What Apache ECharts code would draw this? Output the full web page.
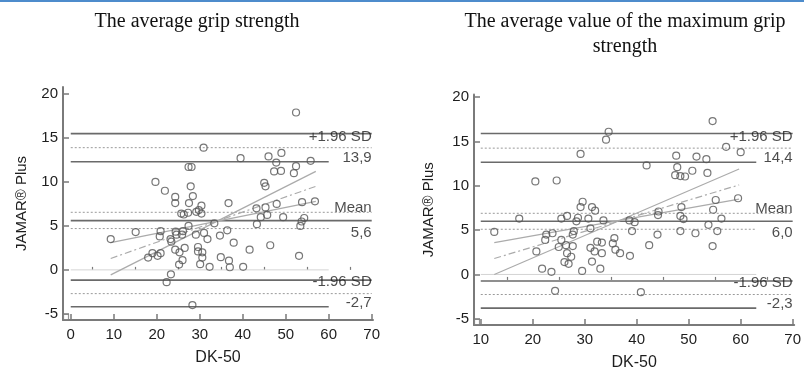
<!DOCTYPE html>
<html>
<head>
<meta charset="utf-8">
<script src="https://cdn.jsdelivr.net/npm/echarts@6/dist/echarts.min.js"></script>
<style>
  html, body { margin: 0; padding: 0; background: #fff; }
  #chart { width: 804px; height: 376px; }
</style>
</head>
<body>
<div id="chart"></div>
<script>
// average grip strength (left)
const avgX = [9.3, 15.1, 18.0, 19.0, 20.2, 20.9, 20.7, 20.9, 19.7, 21.9, 22.3, 23.3, 23.2, 23.4, 24.4, 24.6, 24.3, 24.3, 24.3, 25.3,
  25.2, 26.0, 25.7, 26.3, 27.3, 27.4, 28.1, 27.9, 28.4, 27.5, 29.2, 27.4, 26.1, 25.9, 29.1, 26.5, 29.6, 29.6, 30.6, 30.6,
  30.1, 28.3, 30.9, 30.4, 29.8, 30.4, 31.0, 31.8, 32.3, 33.4, 34.7, 34.9, 36.4, 36.7, 36.8, 37.0, 37.9, 39.5, 40.1, 41.6,
  43.2, 43.3, 44.2, 45.0, 45.3, 45.3, 45.7, 46.0, 46.4, 47.3, 47.8, 47.9, 48.9, 49.0, 49.4, 51.9, 52.4, 52.4, 53.1, 53.4,
  53.7, 53.8, 54.3, 55.8, 56.8]
const avgY = [3.5, 4.3, 1.4, 1.9, 1.6, 1.9, 3.8, 4.4, 10.0, 9.0, -1.4, -0.5, 3.5, 3.2, 4.35, 4.0, 8.3, 7.6, 2.3, 2.0,
  0.6, 1.1, 6.4, 6.3, 6.5, 11.7, 11.7, 9.5, 8.4, 7.6, 6.6, 5.0, 4.4, 4.0, 4.0, 2.5, 2.6, 2.1, 2.0, 1.4,
  0.65, -4.0, 13.9, 7.3, 6.8, 6.4, 4.2, 3.5, 0.35, 5.3, 3.9, 1.45, 4.5, 7.6, 1.05, 0.3, 3.1, 12.7, 0.35, 2.3,
  7.0, 5.2, 6.0, 9.9, 9.5, 7.1, 6.25, 12.9, 2.8, 11.2, 12.2, 7.5, 11.25, 13.3, 6.0, 11.0, 11.8, 17.9, 1.6, 5.0,
  5.5, 7.7, 5.9, 12.4, 7.8]

// average of maximum grip strength (right)
const maxX = [12.6, 17.4, 20.5, 20.7, 21.8, 22.4, 22.6, 23.6, 23.8, 24.6, 24.3, 25.0, 25.5, 25.5, 26.4, 26.6, 26.6, 27.4, 26.1, 26.9,
  27.7, 27.7, 27.9, 28.7, 28.4, 29.2, 29.6, 29.2, 29.5, 30.7, 31.1, 31.4, 32.0, 31.1, 31.9, 31.4, 32.4, 33.3, 33.3, 33.0,
  33.6, 34.1, 34.6, 35.4, 35.7, 35.9, 36.8, 38.6, 38.7, 39.1, 39.6, 40.8, 41.9, 42.4, 44.0, 44.2, 44.1, 47.4, 47.6, 47.8,
  48.4, 48.4, 48.4, 48.6, 49.0, 49.3, 50.7, 51.3, 51.5, 53.4, 53.6, 53.8, 54.6, 54.6, 54.7, 55.2, 55.5, 56.3, 57.2, 59.5,
  60.0]
const maxY = [4.8, 6.3, 10.5, 2.6, 0.65, 3.9, 4.5, 0.3, 4.65, 10.6, -1.85, 3.1, 3.9, 6.3, 3.3, 6.6, 2.4, 2.0, 1.4, 1.2,
  3.2, 4.5, 4.9, 6.4, 6.0, 13.6, 8.2, 7.6, 0.4, 6.3, 5.2, 7.6, 7.2, 3.0, 2.6, 1.45, 3.7, 3.6, 2.4, 0.65,
  6.1, 15.2, 16.1, 3.5, 4.1, 2.8, 2.4, 6.1, 2.1, 4.9, 5.9, -2.0, 12.3, 3.3, 4.5, 7.1, 6.7, 11.2, 13.4, 12.1,
  11.1, 6.6, 4.9, 7.6, 6.25, 11.05, 11.7, 4.65, 13.3, 13.0, 11.45, 5.6, 3.2, 17.3, 7.3, 8.4, 4.9, 6.3, 14.4, 8.6,
  13.8]

// horizontal reference lines (upper limit group, mean group, lower limit group)
const levelsAvg = [15.5, 13.9, 12.3, 6.55, 5.6, 4.7, -1.17, -2.7, -4.2]
const levelsMax = [15.9, 14.25, 12.65, 6.9, 6.0, 5.1, -0.73, -2.26, -3.8]
const spanAvg = [0, 60, 70]   // start, short end, long end
const spanMax = [10, 63, 70]
const labelsAvg = ['+1.96 SD', '13,9', 'Mean', '5,6', '-1.96 SD', '-2,7']
const labelsMax = ['+1.96 SD', '14,4', 'Mean', '6,0', '-1.96 SD', '-2,3']

// regression line and its bounds: [value at first x, value at last x]
const regXAvg = [9.3, 57]
const regHighAvg = [-0.57, 11.2]
const regFitAvg = [1.3, 9.5]
const regLowAvg = [3.1, 7.8]
const regXMax = [12.6, 59.7]
const regHighMax = [0, 11.9]
const regFitMax = [1.8, 10.1]
const regLowMax = [3.6, 8.5]

const xTicksAvg = [0, 10, 20, 30, 40, 50, 60, 70]
const xMinorAvg = [5, 15, 25, 35, 45, 55, 65]
const xTicksMax = [10, 20, 30, 40, 50, 60, 70]
const xMinorMax = [15, 25, 35, 45, 55, 65]
const yTicks = [-5, 0, 5, 10, 15, 20]

const axisGray = '#7a7a7a'
const textColor = '#1e1e1e'
const sans = '"Liberation Sans", Arial, sans-serif'

function mainX(grid, min, max, ticks) {
  return {
    gridIndex: grid, type: 'value', min: min, max: max,
    name: 'DK-50', nameLocation: 'middle', nameGap: 30,
    nameTextStyle: { fontFamily: sans, fontSize: 16, color: textColor },
    axisLine: { show: true, onZero: false, lineStyle: { color: axisGray, width: 2 } },
    axisTick: { show: true, inside: true, length: 6, customValues: ticks, lineStyle: { color: axisGray, width: 1.5 } },
    axisLabel: { customValues: ticks, margin: 7, fontFamily: sans, fontSize: 15, color: textColor },
    splitLine: { show: false }
  }
}
function minorX(grid, min, max, ticks) {
  return {
    gridIndex: grid, type: 'value', min: min, max: max,
    axisLine: { show: false },
    axisTick: { show: true, inside: true, length: 3, customValues: ticks, lineStyle: { color: axisGray, width: 1.2 } },
    axisLabel: { show: false },
    splitLine: { show: false }
  }
}
function mainY(grid, min, max, gap) {
  return {
    gridIndex: grid, type: 'value', min: min, max: max,
    name: 'JAMAR® Plus', nameLocation: 'middle', nameGap: gap, nameRotate: 90,
    nameTextStyle: { fontFamily: sans, fontSize: 15, color: textColor },
    axisLine: { show: true, onZero: false, lineStyle: { color: axisGray, width: 2 } },
    axisTick: { show: true, inside: true, length: 6, customValues: yTicks, lineStyle: { color: axisGray, width: 1.5 } },
    axisLabel: { customValues: yTicks, margin: 5, fontFamily: sans, fontSize: 15, color: textColor },
    splitLine: { show: false }
  }
}
function hiddenY(grid, min, max) {
  return { gridIndex: grid, type: 'value', min: min, max: max, show: false, splitLine: { show: false } }
}

function lineSeries(ax, data, style) {
  return {
    type: 'line', xAxisIndex: ax, yAxisIndex: ax, data: data, symbol: 'none',
    silent: true, animation: false, lineStyle: style, z: 2
  }
}

function buildSeries(ax, xs, ys, levels, span, labels, regX, regs, xMin, yMin) {
  const out = []
  const solid = { color: '#6a6a6a', width: 1.6, type: 'solid' }
  const dotted = { color: '#9a9a9a', width: 1, type: [2, 2] }
  // group pattern: upper solid/dotted/solid, mean dotted/solid/dotted, lower solid/dotted/solid
  const styles = [solid, dotted, solid, dotted, solid, dotted, solid, dotted, solid]
  levels.forEach(function (v, i) {
    const end = (i % 3 === 2) ? span[1] : span[2]
    out.push(lineSeries(ax, [[span[0], v], [end, v]], styles[i]))
  })
  out.push(lineSeries(ax, [[span[0], 0], [span[1], 0]], { color: '#d4d4d4', width: 1 }))
  out.push(lineSeries(ax, [[regX[0], regs[0][0]], [regX[1], regs[0][1]]], { color: '#ababab', width: 1.2 }))
  out.push(lineSeries(ax, [[regX[0], regs[1][0]], [regX[1], regs[1][1]]], { color: '#ababab', width: 1.2, type: [7, 3, 2, 3] }))
  out.push(lineSeries(ax, [[regX[0], regs[2][0]], [regX[1], regs[2][1]]], { color: '#ababab', width: 1.2 }))
  out.push({
    type: 'scatter', xAxisIndex: ax, yAxisIndex: ax, symbol: 'circle', symbolSize: 7,
    data: xs.map(function (x, i) { return [x, ys[i]] }),
    itemStyle: { color: 'rgba(255,255,255,0)', borderColor: '#555', borderWidth: 1.2 },
    animation: false, silent: true, z: 4
  })
  // text labels at the right of the reference lines
  const attach = [0, 2, 3, 5, 6, 8]
  const offs = [3, -4, -4, 4, 2, -4]
  out.push({
    type: 'scatter', xAxisIndex: ax, yAxisIndex: ax, symbolSize: 0, silent: true, animation: false, z: 5,
    data: labels.map(function (t, i) {
      return {
        value: [span[2], levels[attach[i]]],
        label: { show: true, formatter: t, position: 'left', distance: 0, offset: [0, offs[i]],
          fontFamily: sans, fontSize: 15, color: textColor }
      }
    })
  })
  // small box at the axis corner
  out.push({
    type: 'scatter', xAxisIndex: ax, yAxisIndex: ax, symbol: 'rect', symbolSize: 5, symbolOffset: [3, -3],
    data: [[xMin, yMin]], silent: true, animation: false,
    itemStyle: { color: '#fff', borderColor: axisGray, borderWidth: 1.2 }
  })
  return out
}

const xMinA = -1.8, xMaxA = 70.3, yMinA = -5.7, yMaxA = 20.8
const xMinB = 8.7, xMaxB = 70.3, yMinB = -5.7, yMaxB = 20.3

const chart = echarts.init(document.getElementById('chart'), null, { renderer: 'canvas' })
const titleFont = '20px "Liberation Serif", "Times New Roman", serif'
chart.setOption({
  backgroundColor: '#fff',
  animation: false,
  graphic: [
    { type: 'rect', shape: { x: 0, y: 0, width: 804, height: 2 }, style: { fill: '#4d8ccc' } },
    { type: 'text', x: 197, y: 22, style: { text: 'The average grip strength', font: titleFont, fill: '#111', align: 'center', verticalAlign: 'middle' } },
    { type: 'text', x: 625, y: 22, style: { text: 'The average value of the maximum grip', font: titleFont, fill: '#111', align: 'center', verticalAlign: 'middle' } },
    { type: 'text', x: 625, y: 47, style: { text: 'strength', font: titleFont, fill: '#111', align: 'center', verticalAlign: 'middle' } }
  ],
  grid: [
    { left: 63, top: 87, width: 310, height: 233 },
    { left: 63, top: 87, width: 310, height: 233 },
    { left: 474, top: 94.5, width: 321, height: 237.5 },
    { left: 474, top: 94.5, width: 321, height: 237.5 }
  ],
  xAxis: [
    mainX(0, xMinA, xMaxA, xTicksAvg),
    minorX(1, xMinA, xMaxA, xMinorAvg),
    mainX(2, xMinB, xMaxB, xTicksMax),
    minorX(3, xMinB, xMaxB, xMinorMax)
  ],
  yAxis: [
    mainY(0, yMinA, yMaxA, 34),
    hiddenY(1, yMinA, yMaxA),
    mainY(2, yMinB, yMaxB, 38),
    hiddenY(3, yMinB, yMaxB)
  ],
  series: [].concat(
    buildSeries(0, avgX, avgY, levelsAvg, spanAvg, labelsAvg, regXAvg, [regHighAvg, regFitAvg, regLowAvg], xMinA, yMinA),
    buildSeries(2, maxX, maxY, levelsMax, spanMax, labelsMax, regXMax, [regHighMax, regFitMax, regLowMax], xMinB, yMinB)
  )
})
</script>
</body>
</html>
